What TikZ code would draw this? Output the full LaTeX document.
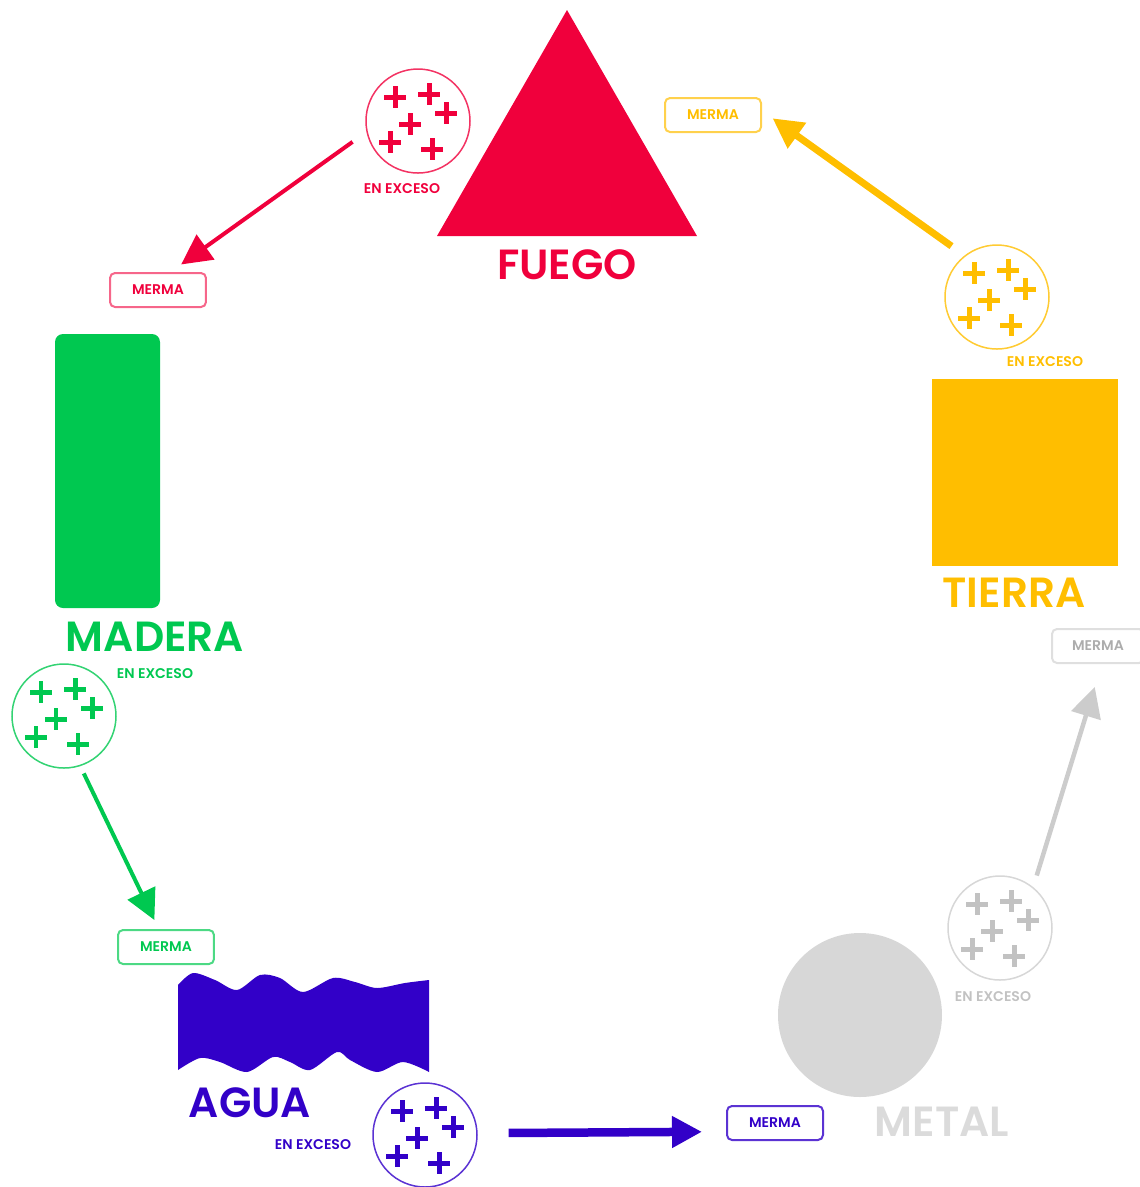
\documentclass[tikz,border=0pt]{standalone}
\usepackage{fontspec}
\setmainfont{Poppins}[BoldFont={* SemiBold}]
\usetikzlibrary{arrows.meta}
\definecolor{fuego}{RGB}{240,0,60}
\definecolor{tierra}{RGB}{255,190,0}
\definecolor{metal}{RGB}{215,215,215}
\definecolor{agua}{RGB}{50,0,200}
\definecolor{madera}{RGB}{0,200,80}
\tikzset{
  elemento/.style={font=\fontsize{12}{14}\selectfont\bfseries},
  exceso/.style={font=\fontsize{4}{5}\selectfont\bfseries},
  bolsa/.style={draw, circle, line width=0.15mm, minimum size=10.4mm, inner sep=0pt},
  merma/.style={draw, rounded corners=0.5mm, line width=0.2mm, minimum width=9.6mm,
    minimum height=3.4mm, inner sep=0pt, font=\fontsize{4}{5}\selectfont\bfseries},
}
\newcommand{\cruces}[2]{%
  \foreach \dx/\dy in {-23/-24,11/-27,28/-8,-8/3,-28/21,14/28}
    \draw[#2, line width=0.5mm, shift={(#1)}]
      (\dx-11,\dy) -- (\dx+11,\dy) (\dx,\dy-11) -- (\dx,\dy+11);
}
\begin{document}
\begin{tikzpicture}[x=0.1mm,y=-0.1mm]
  \useasboundingbox (0,0) rectangle (1140,1187);
  % the five elements
  \fill[fuego] (567,10) -- (697,236) -- (437,236) -- cycle;
  \fill[tierra] (932,379) rectangle (1118,566);
  \fill[metal] (860,1015) circle[radius=8.2mm];
  \fill[madera, rounded corners=0.8mm] (55,334) rectangle (160,608);
  \fill[agua] plot[smooth] coordinates {(178,985) (193,973) (215,980) (237,990)
      (260,975) (280,978) (303,992) (333,978) (355,982) (377,988) (405,983) (429,980)}
    -- plot[smooth] coordinates {(429,1072) (403,1062) (377,1072) (350,1060)
      (337,1052) (310,1070) (290,1062) (273,1057) (247,1072) (220,1062)
      (200,1058) (178,1070)} -- cycle;
  \draw
    (567,265) node[elemento, fuego] (tfuego) {FUEGO}
    (1014,593) node[elemento, tierra] (ttierra) {TIERRA}
    (942,1122) node[elemento, metal!90] (tmetal) {METAL}
    (250,1103) node[elemento, agua] (tagua) {AGUA}
    (155,637) node[elemento, madera] (tmadera) {MADERA};
  % en exceso
  \draw
    (418,121) node[bolsa, draw=fuego!80] (exfuego) {}
    (997,297) node[bolsa, draw=tierra!80] (extierra) {}
    (1000,928) node[bolsa, draw=metal] (exmetal) {}
    (425,1135) node[bolsa, draw=agua!80] (exagua) {}
    (64,716) node[bolsa, draw=madera!80] (exmadera) {};
  \cruces{exfuego}{fuego}
  \cruces{extierra}{tierra}
  \cruces{exmetal}{metal!90!black}
  \cruces{exagua}{agua}
  \cruces{exmadera}{madera}
  \draw
    (402,189) node[exceso, fuego] (efuego) {EN EXCESO}
    (1045,362) node[exceso, tierra] (etierra) {EN EXCESO}
    (993,997) node[exceso, metal!90!black] (emetal) {EN EXCESO}
    (313,1145) node[exceso, agua] (eagua) {EN EXCESO}
    (155,674) node[exceso, madera] (emadera) {EN EXCESO};
  % merma
  \draw
    (158,290) node[merma, draw=fuego!60, text=fuego] (mfuego) {MERMA}
    (713,115) node[merma, draw=tierra!70, text=tierra] (mtierra) {MERMA}
    (1098,646) node[merma, draw=metal!80, text=metal!80!black, minimum width=9.2mm] (mmetal) {MERMA}
    (775,1123) node[merma, draw=agua!80, text=agua] (magua) {MERMA}
    (166,947) node[merma, draw=madera!70, text=madera] (mmadera) {MERMA};
  \begin{scope}[line width=0.4mm, -{Triangle[length=3mm,width=3mm]}]
    \draw[fuego, shorten <=1.7mm, shorten >=1.3mm] (exfuego.192) -- (mfuego.55);
    \draw[tierra, line width=0.7mm, shorten <=1.6mm, shorten >=1.3mm] (extierra.128) -- (mtierra.5);
    \draw[metal!95!black, line width=0.45mm, shorten <=1.2mm, shorten >=2.4mm] (exmetal.51) -- (mmetal.-78);
    \draw[agua, line width=0.85mm, shorten <=3.1mm, shorten >=2.4mm] (exagua.2) -- (magua.190);
    \draw[madera, shorten <=0.8mm, shorten >=1mm] (exmadera.-72) -- (mmadera.112);
  \end{scope}
\end{tikzpicture}
\end{document}
